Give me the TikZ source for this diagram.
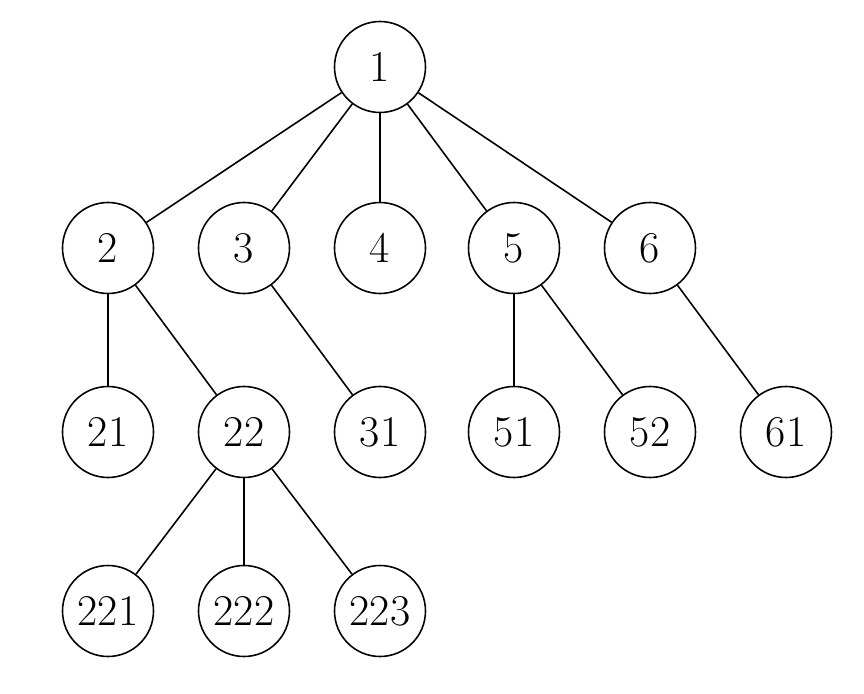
\documentclass[tikz,border=0pt]{standalone}
\usepackage{amsmath}
\usepackage{tikz}
\usetikzlibrary{
    positioning
}
\tikzset{
    vertice/.style={
        circle,
        draw,
        line width=0.9pt,
        minimum size=1.82cm,
        inner sep=0pt,
        font=\fontsize{25}{30}\selectfont
    },
    rama/.style={
        line width=0.9pt
    }
}

\begin{document}
\begin{tikzpicture}

    \useasboundingbox (0,0) rectangle (17.28,-13.88);

    % Raiz
    \node[vertice] (n1)   at (7.60,-1.34)   {1};

    % Segundo nivel
    \node[vertice] (n2)   at (2.16,-4.96)   {2};
    \node[vertice] (n3)   at (4.88,-4.96)   {3};
    \node[vertice] (n4)   at (7.60,-4.96)   {4};
    \node[vertice] (n5)   at (10.28,-4.96)  {5};
    \node[vertice] (n6)   at (13.00,-4.96)  {6};

    % Tercer nivel
    \node[vertice] (n21)  at (2.16,-8.64)   {21};
    \node[vertice] (n22)  at (4.88,-8.64)   {22};
    \node[vertice] (n31)  at (7.60,-8.64)   {31};
    \node[vertice] (n51)  at (10.28,-8.64)  {51};
    \node[vertice] (n52)  at (13.00,-8.64)  {52};
    \node[vertice] (n61)  at (15.72,-8.64)  {61};

    % Cuarto nivel
    \node[vertice] (n221) at (2.16,-12.22)  {221};
    \node[vertice] (n222) at (4.88,-12.22)  {222};
    \node[vertice] (n223) at (7.60,-12.22)  {223};

    % Ramas
    \path[rama]

        % Desde la raiz
        (n1)
            edge (n2)
            edge (n3)
            edge (n4)
            edge (n5)
            edge (n6)

        % Desde 2, 3, 5 y 6
        (n2)
            edge (n21)
            edge (n22)
        (n3)
            edge (n31)
        (n5)
            edge (n51)
            edge (n52)
        (n6)
            edge (n61)

        % Desde 22
        (n22)
            edge (n221)
            edge (n222)
            edge (n223);

\end{tikzpicture}
\end{document}
